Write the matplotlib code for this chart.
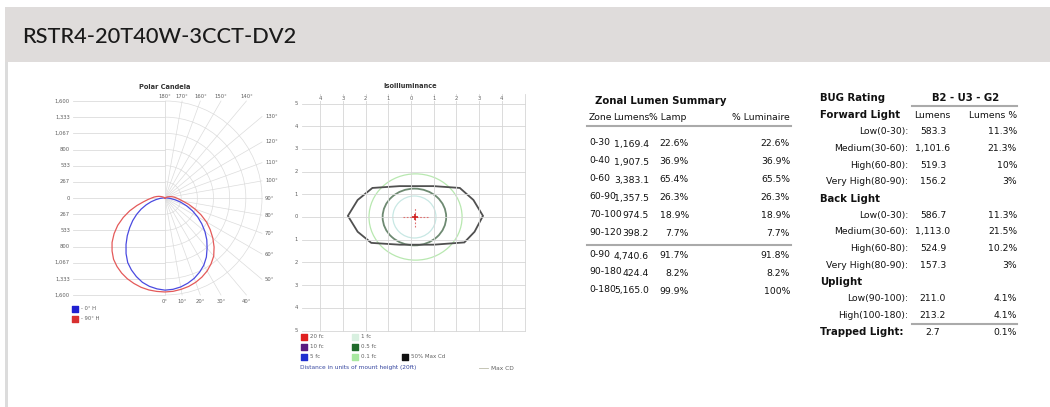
import numpy as np
import matplotlib.pyplot as plt
from matplotlib.patches import Rectangle, Ellipse, Polygon, Arc

W, H = 1050, 407

title = "RSTR4-20T40W-3CCT-DV2"

# polar candela data (angle from nadir every 5 deg, candela per half plane)
angles = list(range(0, 185, 5))
cd_0 = [1520, 1512, 1490, 1455, 1410, 1350, 1280, 1190, 1080, 975, 860, 740, 620, 500, 380, 270, 170, 90, 40,
        20, 10] + [0] * 16
cd_180 = [1520, 1505, 1480, 1440, 1380, 1310, 1230, 1120, 1000, 880, 760, 650, 540, 435, 330, 235, 150, 85, 40,
          20, 10] + [0] * 16
cd_90 = [1550, 1545, 1530, 1510, 1480, 1440, 1390, 1325, 1250, 1145, 1030, 910, 790, 655, 520, 405, 300, 235, 190,
         155, 120, 90, 60, 40, 20, 8] + [0] * 11
cd_270 = [1550, 1547, 1540, 1525, 1500, 1470, 1430, 1380, 1320, 1235, 1140, 1025, 900, 760, 620, 480, 360, 280, 220,
          180, 140, 105, 70, 45, 25, 10] + [0] * 11
cd_ticks = ["1,600", "1,333", "1,067", "800", "533", "267", "0", "267", "533", "800", "1,067", "1,333", "1,600"]

# isoilluminance contours (mount heights)
iso_50max_x = [-2.78, -2.35, -1.7, -0.5, 1.0, 2.15, 2.75, 3.17, 2.8, 2.35, 1.0, -0.5, -1.75, -2.35, -2.78]
iso_50max_y = [0.05, 0.75, 1.28, 1.36, 1.36, 1.28, 0.75, 0.05, -0.65, -1.12, -1.22, -1.22, -1.14, -0.65, 0.05]
fc_01 = (0.2, 0.0, 4.1, 3.8)   # cx, cy, width, height
fc_05 = (0.15, 0.0, 2.8, 2.5)
fc_1 = (0.15, 0.0, 1.9, 1.85)
max_cd = (0.18, 0.0)

# zonal lumen summary
zones = ["0-30", "0-40", "0-60", "60-90", "70-100", "90-120", "0-90", "90-180", "0-180"]
zone_lumens = ["1,169.4", "1,907.5", "3,383.1", "1,357.5", "974.5", "398.2", "4,740.6", "424.4", "5,165.0"]
zone_lamp = ["22.6%", "36.9%", "65.4%", "26.3%", "18.9%", "7.7%", "91.7%", "8.2%", "99.9%"]
zone_lum = ["22.6%", "36.9%", "65.5%", "26.3%", "18.9%", "7.7%", "91.8%", "8.2%", "100%"]

# BUG rating table
bug_rating = "B2 - U3 - G2"
bug_labels = ["Forward Light", "Low(0-30):", "Medium(30-60):", "High(60-80):", "Very High(80-90):",
              "Back Light", "Low(0-30):", "Medium(30-60):", "High(60-80):", "Very High(80-90):",
              "Uplight", "Low(90-100):", "High(100-180):", "Trapped Light:"]
bug_lumens = ["", "583.3", "1,101.6", "519.3", "156.2", "", "586.7", "1,113.0", "524.9", "157.3",
              "", "211.0", "213.2", "2.7"]
bug_pct = ["", "11.3%", "21.3%", "10%", "3%", "", "11.3%", "21.5%", "10.2%", "3%", "", "4.1%", "4.1%", "0.1%"]
bug_bold = [True, False, False, False, False, True, False, False, False, False, True, False, False, True]

fig = plt.figure(figsize=(10.5, 4.07), dpi=100)
page = fig.add_axes([0, 0, 1, 1])
page.set_xlim(0, W)
page.set_ylim(H, 0)
page.axis("off")


def px_axes(x0, y0, w, h):
    return fig.add_axes([x0 / W, 1 - (y0 + h) / H, w / W, h / H])


# header
page.add_patch(Rectangle((5, 7), W - 5, 55, color="#dfdcdb", lw=0))
page.add_patch(Rectangle((5, 62), 3, H - 62, color="#dcdcdc", lw=0))
page.text(22, 37, title, fontsize=15.7, family="Lato", fontweight="medium", color="#1a1a1a",
          va="center", ha="left")

# ---------- polar candela ----------
cx, cy, s = 165, 198, 97 / 1600
x0, y0, w, h = 40, 78, 240, 235
pa = px_axes(x0, y0, w, h)
pa.set_xlim((x0 - cx) / s, (x0 + w - cx) / s)
pa.set_ylim((cy - (y0 + h)) / s, (cy - y0) / s)
pa.axis("off")

R = 1600
grid_c = "#dcdcdc"
lab_c = "#606060"
for k in range(-6, 7):
    pa.plot([-1520, 0], [k * R / 6, k * R / 6], color=grid_c, lw=0.6)
pa.plot([0, 0], [-R, R], color=grid_c, lw=0.6)
for k in range(1, 7):
    pa.add_patch(Arc((0, 0), 2 * k * R / 6, 2 * k * R / 6, theta1=-90, theta2=90, color=grid_c, lw=0.5))
for a in range(10, 180, 10):
    t = np.radians(a)
    d = R / max(abs(np.sin(t)), abs(np.cos(t)))
    pa.plot([0, d * np.sin(t)], [0, -d * np.cos(t)], color=grid_c, lw=0.5)

for i, lab in enumerate(cd_ticks):
    pa.text((70 - cx) / s, R - i * R / 6, lab, fontsize=3.8, color=lab_c, ha="right", va="center")
for a in [180, 170, 160, 150, 140]:
    pa.text(R * np.tan(np.radians(180 - a)), 1680, f"{a}°", fontsize=3.8, color=lab_c, ha="center", va="center")
for a in [0, 10, 20, 30, 40]:
    pa.text(R * np.tan(np.radians(a)), -1700, f"{a}°", fontsize=3.8, color=lab_c, ha="center", va="center")
for a in [130, 120, 110, 100, 90, 80, 70, 60, 50]:
    t = np.radians(a)
    pa.text(1650, -R * np.cos(t) / np.sin(t), f"{a}°", fontsize=3.8, color=lab_c, ha="left", va="center")

th = np.radians(angles)
r0, r180, r90, r270 = map(np.array, (cd_0, cd_180, cd_90, cd_270))
bx = np.concatenate([(r0 * np.sin(th))[::-1], -r180 * np.sin(th)])
by = np.concatenate([(-r0 * np.cos(th))[::-1], -r180 * np.cos(th)])
rx = np.concatenate([(r90 * np.sin(th))[::-1], -r270 * np.sin(th)])
ry = np.concatenate([(-r90 * np.cos(th))[::-1], -r270 * np.cos(th)])
pa.plot(bx, by, color="#4a4ae0", lw=0.9)
pa.plot(rx, ry, color="#e45a5a", lw=0.9)
pa.text(0, (cy - 87) / s, "Polar Candela", fontsize=4.8, fontweight="bold", color="#333333", ha="center", va="center")

page.scatter([75, 75], [309, 319], marker="s", s=24, c=["#2020d0", "#d83030"])
page.text(81, 309, "- 0° H", fontsize=3.8, color=lab_c, va="center")
page.text(81, 319, "- 90° H", fontsize=3.8, color=lab_c, va="center")

# ---------- isoilluminance ----------
icx, icy, u = 411, 217, 22.7
x0, y0, w, h = 285, 78, 250, 260
ia = px_axes(x0, y0, w, h)
ia.set_xlim((x0 - icx) / u, (x0 + w - icx) / u)
ia.set_ylim((icy - (y0 + h)) / u, (icy - y0) / u)
ia.axis("off")

for k in range(-4, 6):
    ia.plot([k, k], [-5, 5.4], color="#d6d6d6", lw=0.6)
for k in range(-5, 6):
    ia.plot([-4.8, 5.0], [k, k], color="#d6d6d6", lw=0.6)
for k in range(-4, 5):
    ia.text(k, 5.22, str(abs(k)), fontsize=3.8, color=lab_c, ha="center", va="center",
            bbox=dict(fc="white", ec="none", pad=0.3))
for k in range(-5, 6):
    ia.text(-5.05, k, str(abs(k)), fontsize=3.8, color=lab_c, ha="center", va="center")
ia.text(-0.05, 5.75, "Isoilluminance", fontsize=4.8, fontweight="bold", color="#333333", ha="center", va="center")

ia.add_patch(Ellipse(fc_01[:2], fc_01[2], fc_01[3], fill=False, ec="#b8e8b0", lw=0.9))
ia.add_patch(Ellipse(fc_1[:2], fc_1[2], fc_1[3], fill=False, ec="#c8e8e4", lw=0.9))
ia.add_patch(Ellipse(fc_05[:2], fc_05[2], fc_05[3], fill=False, ec="#6e8a72", lw=1.3))
ia.add_patch(Polygon(np.column_stack([iso_50max_x, iso_50max_y]), closed=True, fill=False, ec="#505050", lw=1.3))
ia.plot([max_cd[0] - 0.55, max_cd[0] + 0.55], [max_cd[1], max_cd[1]], color="#e07070", lw=0.8, ls=(0, (1.5, 1.5)))
ia.plot([max_cd[0], max_cd[0]], [max_cd[1] - 0.45, max_cd[1] + 0.45], color="#e07070", lw=0.8, ls=(0, (1.5, 1.5)))
ia.plot(*max_cd, marker="+", ms=5, mew=1.2, color="#d02020")

leg = [(304, 337, "#e02020", "20 fc"), (304, 347, "#5a1a80", "10 fc"), (304, 357, "#2030d0", "5 fc"),
       (355, 337, "#d8f0e0", "1 fc"), (355, 347, "#1f6b2a", "0.5 fc"), (355, 357, "#a8e8a0", "0.1 fc"),
       (405, 357, "#111111", "50% Max Cd")]
for lx, ly, lc, lt in leg:
    page.scatter([lx], [ly], marker="s", s=22, c=lc)
    page.text(lx + 6, ly, lt, fontsize=4, color=lab_c, va="center")
page.text(300, 368, "Distance in units of mount height (20ft)", fontsize=4.2, color="#3848a0", va="center")
page.plot([479, 488], [368, 368], color="#bbbbaa", lw=0.6)
page.text(491, 368, "Max CD", fontsize=4.2, color=lab_c, va="center")

# ---------- zonal lumen summary ----------
fs = 6.7
bfs = 7.3
tc = "#111111"
page.text(595, 101, "Zonal Lumen Summary", fontsize=bfs, fontweight="bold", color=tc, va="center")
page.text(589, 118, "Zone", fontsize=fs, color=tc, va="center")
page.text(631, 118, "Lumens", fontsize=fs, color=tc, va="center", ha="center")
page.text(668, 118, "% Lamp", fontsize=fs, color=tc, va="center", ha="center")
page.text(790, 118, "% Luminaire", fontsize=fs, color=tc, va="center", ha="right")
page.plot([587, 791], [125.5, 125.5], color="#aaaaaa", lw=1.5)
zone_y = [144, 162, 180, 198, 216, 234, 256, 273.5, 291]
for zy, z, lm, lp, ll in zip(zone_y, zones, zone_lumens, zone_lamp, zone_lum):
    page.text(589, zy - 1.5, z, fontsize=fs, color=tc, va="center")
    page.text(649, zy, lm, fontsize=fs, color=tc, va="center", ha="right")
    page.text(689, zy, lp, fontsize=fs, color=tc, va="center", ha="right")
    page.text(790, zy, ll, fontsize=fs, color=tc, va="center", ha="right")
page.plot([587, 791], [245, 245], color="#aaaaaa", lw=1.5)

# ---------- BUG rating ----------
page.text(820, 98, "BUG Rating", fontsize=bfs, fontweight="bold", color=tc, va="center")
page.text(966, 98, bug_rating, fontsize=bfs, fontweight="bold", color=tc, va="center", ha="center")
page.plot([912, 1017], [106, 106], color="#aaaaaa", lw=1.5)
page.text(932, 116, "Lumens", fontsize=fs, color=tc, va="center", ha="center")
page.text(1017, 116, "Lumens %", fontsize=fs, color=tc, va="center", ha="right")
for i, (lab, lm, pc, b) in enumerate(zip(bug_labels, bug_lumens, bug_pct, bug_bold)):
    by_ = 115 + i * 16.7
    if b:
        page.text(820, by_, lab, fontsize=bfs, fontweight="bold", color=tc, va="center")
    else:
        page.text(908, by_, lab, fontsize=fs, color=tc, va="center", ha="right")
    if lm:
        page.text(933, by_, lm, fontsize=fs, color=tc, va="center", ha="center")
        page.text(1017, by_, pc, fontsize=fs, color=tc, va="center", ha="right")
page.plot([912, 1017], [324, 324], color="#aaaaaa", lw=1.5)

fig.savefig("out.png", dpi=100)
